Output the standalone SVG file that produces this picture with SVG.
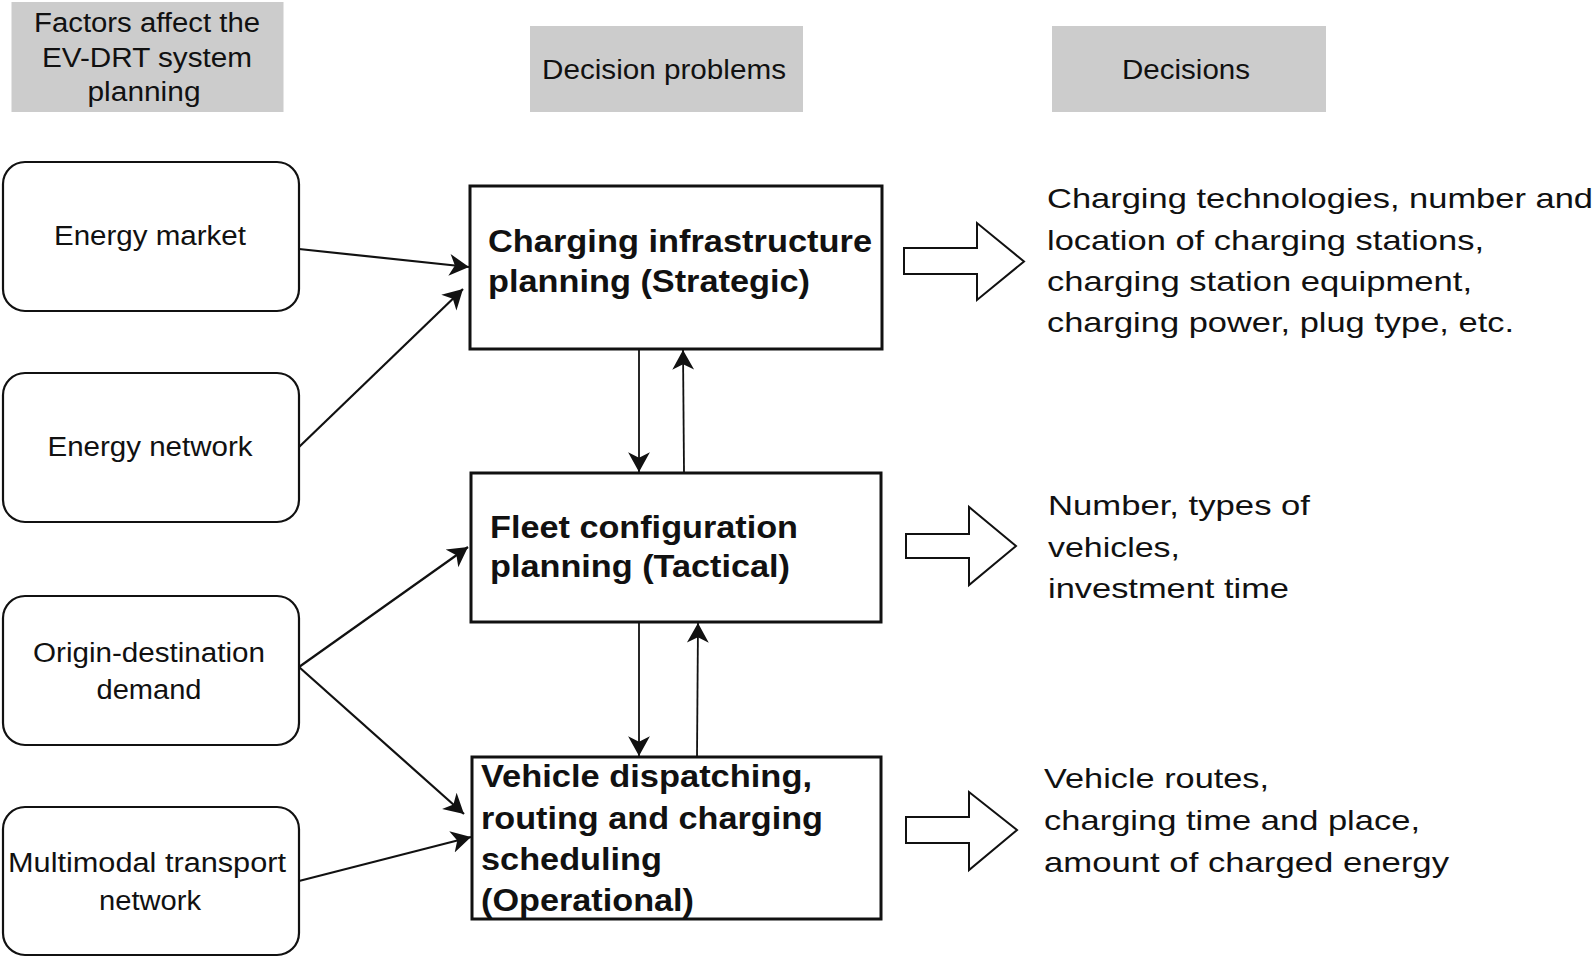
<svg xmlns="http://www.w3.org/2000/svg" width="1594" height="958" viewBox="0 0 1594 958">
<style>
.hdr{fill:#cccccc;stroke:none}
.t{font-family:"Liberation Sans",Arial,sans-serif;fill:#111}
.h{font-size:27px;text-anchor:middle}
.l{font-size:27px;text-anchor:middle}
.b{font-size:30.5px;font-weight:bold}
.r{font-size:28px}
.fac{fill:#fff;stroke:#111;stroke-width:2.2}
.box{fill:#fff;stroke:#111;stroke-width:3}
.con{fill:none;stroke:#111;stroke-width:2.2}
.thin{fill:none;stroke:#111;stroke-width:1.8}
.blk{fill:#fff;stroke:#111;stroke-width:2}
</style>
<defs>
<marker id="ah" markerUnits="userSpaceOnUse" markerWidth="22" markerHeight="24" viewBox="0 -11 20 22" refX="18" refY="0" orient="auto">
<path d="M0,-10 L18,0 L0,10 L5,0 Z" fill="#111"/>
</marker>
</defs>

<g id="header-factors">
<rect class="hdr" x="11.5" y="2" width="272" height="110"/>
<text class="t h" x="147" y="32" textLength="226" lengthAdjust="spacingAndGlyphs">Factors affect the</text>
<text class="t h" x="147" y="67" textLength="210" lengthAdjust="spacingAndGlyphs">EV-DRT system</text>
<text class="t h" x="144" y="101" textLength="113" lengthAdjust="spacingAndGlyphs">planning</text>
</g>
<g id="header-problems">
<rect class="hdr" x="530" y="26" width="273" height="86"/>
<text class="t h" x="664" y="79" textLength="244" lengthAdjust="spacingAndGlyphs">Decision problems</text>
</g>
<g id="header-decisions">
<rect class="hdr" x="1052" y="26" width="274" height="86"/>
<text class="t h" x="1186" y="79" textLength="128" lengthAdjust="spacingAndGlyphs">Decisions</text>
</g>

<g id="energy-market">
<rect class="fac" x="3" y="162" width="296" height="149" rx="22"/>
<text class="t l" x="150" y="245" textLength="192" lengthAdjust="spacingAndGlyphs">Energy market</text>
</g>
<g id="energy-network">
<rect class="fac" x="3" y="373" width="296" height="149" rx="22"/>
<text class="t l" x="150" y="456" textLength="205" lengthAdjust="spacingAndGlyphs">Energy network</text>
</g>
<g id="od-demand">
<rect class="fac" x="3" y="596" width="296" height="149" rx="22"/>
<text class="t l" x="149" y="662" textLength="232" lengthAdjust="spacingAndGlyphs">Origin-destination</text>
<text class="t l" x="149" y="699" textLength="105" lengthAdjust="spacingAndGlyphs">demand</text>
</g>
<g id="multimodal">
<rect class="fac" x="3" y="807" width="296" height="148" rx="22"/>
<text class="t l" x="147" y="872" textLength="278" lengthAdjust="spacingAndGlyphs">Multimodal transport</text>
<text class="t l" x="150" y="910" textLength="102" lengthAdjust="spacingAndGlyphs">network</text>
</g>

<g id="charging-infra">
<rect class="box" x="470" y="186" width="412" height="163"/>
<text class="t b" x="488" y="252" textLength="384" lengthAdjust="spacingAndGlyphs">Charging infrastructure</text>
<text class="t b" x="488" y="292" textLength="322" lengthAdjust="spacingAndGlyphs">planning (Strategic)</text>
</g>
<g id="fleet-config">
<rect class="box" x="471" y="473" width="410" height="149"/>
<text class="t b" x="490" y="538" textLength="308" lengthAdjust="spacingAndGlyphs">Fleet configuration</text>
<text class="t b" x="490" y="577" textLength="300" lengthAdjust="spacingAndGlyphs">planning (Tactical)</text>
</g>
<g id="vehicle-dispatch">
<rect class="box" x="472" y="757" width="409" height="162"/>
<text class="t b" x="481" y="787" textLength="331" lengthAdjust="spacingAndGlyphs">Vehicle dispatching,</text>
<text class="t b" x="481" y="829" textLength="342" lengthAdjust="spacingAndGlyphs">routing and charging</text>
<text class="t b" x="481" y="870" textLength="181" lengthAdjust="spacingAndGlyphs">scheduling</text>
<text class="t b" x="481" y="911" textLength="213" lengthAdjust="spacingAndGlyphs">(Operational)</text>
</g>

<g id="decisions-strategic">
<polygon class="blk" points="904,248 977,248 977,223 1024,261.5 977,300 977,274 904,274"/>
<text class="t r" x="1047" y="208" textLength="546" lengthAdjust="spacingAndGlyphs">Charging technologies, number and</text>
<text class="t r" x="1047" y="250" textLength="437" lengthAdjust="spacingAndGlyphs">location of charging stations,</text>
<text class="t r" x="1047" y="291" textLength="425" lengthAdjust="spacingAndGlyphs">charging station equipment,</text>
<text class="t r" x="1047" y="332" textLength="467" lengthAdjust="spacingAndGlyphs">charging power, plug type, etc.</text>
</g>
<g id="decisions-tactical">
<polygon class="blk" points="906,534 969,534 969,507 1016,546 969,585 969,558 906,558"/>
<text class="t r" x="1048" y="515" textLength="262" lengthAdjust="spacingAndGlyphs">Number, types of</text>
<text class="t r" x="1048" y="557" textLength="132" lengthAdjust="spacingAndGlyphs">vehicles,</text>
<text class="t r" x="1048" y="598" textLength="241" lengthAdjust="spacingAndGlyphs">investment time</text>
</g>
<g id="decisions-operational">
<polygon class="blk" points="906,817 969,817 969,792 1017,830 969,870 969,843 906,843"/>
<text class="t r" x="1044" y="788" textLength="225" lengthAdjust="spacingAndGlyphs">Vehicle routes,</text>
<text class="t r" x="1044" y="830" textLength="376" lengthAdjust="spacingAndGlyphs">charging time and place,</text>
<text class="t r" x="1044" y="872" textLength="405" lengthAdjust="spacingAndGlyphs">amount of charged energy</text>
</g>

<g id="connectors">
<line class="con" x1="299" y1="249" x2="469" y2="267" marker-end="url(#ah)"/>
<line class="con" x1="299" y1="447" x2="463" y2="289" marker-end="url(#ah)"/>
<line class="con" x1="299" y1="667" x2="468" y2="547" marker-end="url(#ah)"/>
<line class="con" x1="299" y1="667" x2="464" y2="814" marker-end="url(#ah)"/>
<line class="con" x1="299" y1="881" x2="471" y2="837" marker-end="url(#ah)"/>
<line class="thin" x1="639" y1="349" x2="639" y2="472" marker-end="url(#ah)"/>
<line class="thin" x1="684" y1="472" x2="683" y2="350" marker-end="url(#ah)"/>
<line class="thin" x1="639" y1="622" x2="639" y2="756" marker-end="url(#ah)"/>
<line class="thin" x1="697" y1="757" x2="698" y2="623" marker-end="url(#ah)"/>
</g>
</svg>
